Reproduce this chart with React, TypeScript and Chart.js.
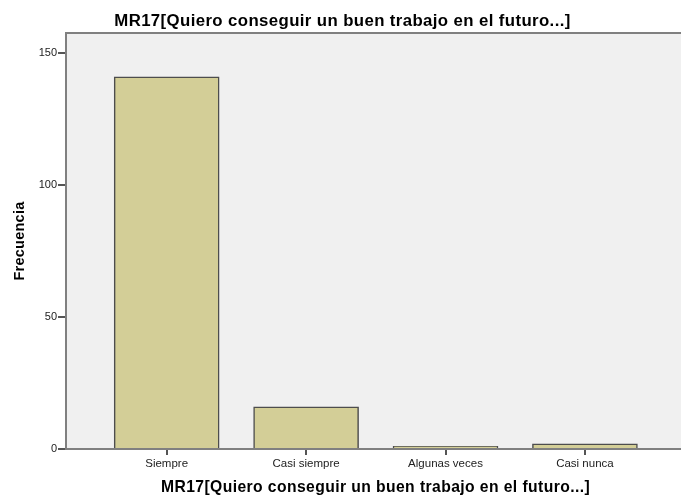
import React, { useEffect, useRef } from 'react';
import { Chart, registerables } from 'chart.js';

Chart.register(...registerables);

const categories = ['Siempre', 'Casi siempre', 'Algunas veces', 'Casi nunca'];
const frequencies = [141, 16, 1, 2];
const yTickValues = [0, 50, 100, 150];
const chartTitle = 'MR17[Quiero conseguir un buen trabajo en el futuro...]';
const xAxisTitle = 'MR17[Quiero conseguir un buen trabajo en el futuro...]';
const yAxisTitle = 'Frecuencia';

const FONT = "'Liberation Sans', Arial, sans-serif";

const framePlugin = {
  id: 'spssFrame',
  beforeDraw(chart: any) {
    const { ctx, chartArea } = chart;
    ctx.save();
    ctx.fillStyle = '#F0F0F0';
    ctx.fillRect(chartArea.left, chartArea.top, chartArea.right - chartArea.left, chartArea.bottom - chartArea.top);
    ctx.restore();
  },
  afterDraw(chart: any) {
    const { ctx, chartArea } = chart;
    ctx.save();
    ctx.strokeStyle = '#808080';
    ctx.lineWidth = 2;
    ctx.beginPath();
    ctx.moveTo(chartArea.left, chartArea.top);
    ctx.lineTo(chartArea.right, chartArea.top);
    ctx.stroke();

    ctx.fillStyle = '#000';
    ctx.textAlign = 'center';
    ctx.textBaseline = 'alphabetic';
    ctx.font = `bold 16.8px ${FONT}`;
    (ctx as any).letterSpacing = '0.39px';
    ctx.fillText(chartTitle, 342.5, 26);

    ctx.font = `bold 15.7px ${FONT}`;
    (ctx as any).letterSpacing = '0.41px';
    ctx.fillText(xAxisTitle, 375.5, 492);

    ctx.translate(24, (chartArea.top + chartArea.bottom) / 2);
    ctx.rotate(-Math.PI / 2);
    ctx.font = `bold 14.5px ${FONT}`;
    (ctx as any).letterSpacing = '0.25px';
    ctx.fillText(yAxisTitle, 0, 0);
    (ctx as any).letterSpacing = '0px';
    ctx.restore();
  },
};

export default function App() {
  const ref = useRef<HTMLCanvasElement | null>(null);

  useEffect(() => {
    if (!ref.current) return;
    const chart = new Chart(ref.current, {
      type: 'bar',
      data: {
        datasets: [
          {
            data: frequencies.map((v, i) => ({ x: i, y: v })),
            backgroundColor: '#D3CE97',
            borderColor: '#4d4d4d',
            borderWidth: 1.5,
            barThickness: 105,
          },
        ],
      },
      options: {
        animation: false,
        responsive: false,
        layout: { padding: { top: 33, left: 0, right: 0, bottom: 0 } },
        plugins: {
          legend: { display: false },
          title: { display: false },
          tooltip: { enabled: false },
        },
        scales: {
          x: {
            type: 'linear',
            min: -0.722,
            max: 3.689,
            offset: false,
            afterBuildTicks: (scale: any) => {
              scale.ticks = categories.map((_, i) => ({ value: i }));
            },
            afterFit: (scale: any) => {
              scale.height = 46;
            },
            ticks: {
              autoSkip: false,
              maxRotation: 0,
              padding: 2,
              color: '#222',
              font: { family: FONT, size: 11.5 },
              callback: (v: any) => categories[Math.round(Number(v))] ?? '',
            },
            grid: {
              offset: false,
              display: true,
              drawOnChartArea: false,
              drawTicks: true,
              tickLength: 6,
              color: '#555',
              lineWidth: 2,
            },
            border: { display: true, color: '#808080', width: 2 },
          },
          y: {
            type: 'linear',
            min: 0,
            max: 157.6,
            afterBuildTicks: (scale: any) => {
              scale.ticks = yTickValues.map((v) => ({ value: v }));
            },
            afterFit: (scale: any) => {
              scale.width = 66;
            },
            ticks: {
              padding: 1,
              color: '#222',
              font: { family: FONT, size: 11 },
            },
            grid: {
              display: true,
              drawOnChartArea: false,
              drawTicks: true,
              tickLength: 8,
              color: '#555',
              lineWidth: 2,
            },
            border: { display: true, color: '#808080', width: 2 },
          },
        },
      },
      plugins: [framePlugin],
    } as any);
    return () => chart.destroy();
  }, []);

  return (
    <div style={{ position: 'absolute', left: 0, top: 0, width: 681, height: 495, background: '#fff' }}>
      <canvas ref={ref} width={681} height={495} style={{ width: 681, height: 495, display: 'block' }} />
    </div>
  );
}
